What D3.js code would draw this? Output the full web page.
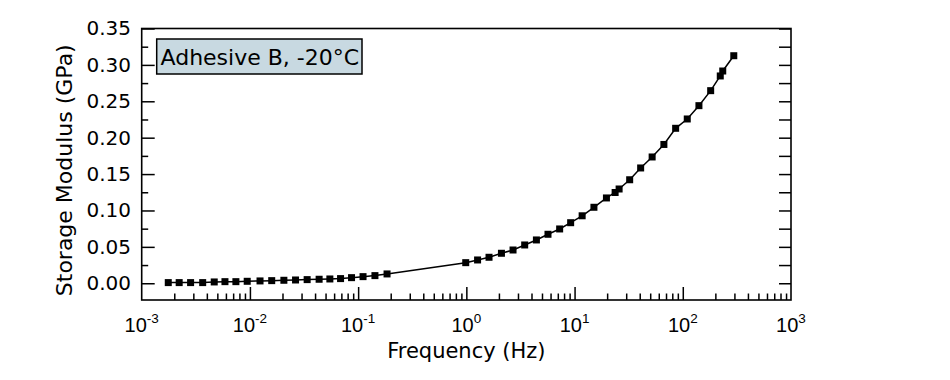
<!DOCTYPE html>
<html>
<head>
<meta charset="utf-8">
<script src="https://cdn.jsdelivr.net/npm/d3@7"></script>
<style>
  html, body { margin: 0; padding: 0; background: #fff; }
  svg { display: block; }
</style>
</head>
<body>
<svg id="chart" width="950" height="380"></svg>
<script>
// ---- data ----
const frequencyHz = [
  0.00176, 0.00222, 0.00283, 0.00366, 0.00468, 0.00588, 0.00742, 0.00944, 0.0124, 0.0159,
  0.0206, 0.0264, 0.0338, 0.0436, 0.0548, 0.0688, 0.0869, 0.111, 0.143, 0.185,
  0.987, 1.27, 1.62, 2.11, 2.70, 3.46, 4.44, 5.68, 7.28, 9.2,
  11.75, 15.1, 19.7, 23.7, 25.8, 32.3, 40.8, 52.1, 66.9, 85.9,
  110, 141, 181, 222, 234, 296
];
const storageModulusGPa = [
  0.0009, 0.0009, 0.0009, 0.0009, 0.0018, 0.0022, 0.0022, 0.0027, 0.0032, 0.0036,
  0.0041, 0.0045, 0.0050, 0.0055, 0.0059, 0.0064, 0.0077, 0.0091, 0.0105, 0.0128,
  0.0283, 0.0320, 0.0357, 0.0412, 0.0457, 0.0526, 0.0595, 0.0673, 0.0746, 0.0832,
  0.0927, 0.1044, 0.1172, 0.1247, 0.1295, 0.1422, 0.1584, 0.1735, 0.1907, 0.2129,
  0.2257, 0.2440, 0.2646, 0.2848, 0.2916, 0.3126
];
const xDecadeExponents = [-3, -2, -1, 0, 1, 2, 3];
const yTickValues = [0.00, 0.05, 0.10, 0.15, 0.20, 0.25, 0.30, 0.35];
const legendLabel = "Adhesive B, -20°C";
const xTitle = "Frequency (Hz)";
const yTitle = "Storage Modulus (GPa)";

(function () {
// ---- layout ----
const pL = 141.7, pR = 791, pT = 28.5, pB = 300;
const svg = d3.select("#chart");
const font = "'DejaVu Sans', sans-serif";

const x = d3.scaleLog().domain([1e-3, 1e3]).range([pL, pR]);
const y = d3.scaleLinear().domain([-0.023, 0.35]).range([pB, pT]);

const decades = xDecadeExponents.map(e => Math.pow(10, e));
const minorX = [];
for (let e = -3; e < 3; e++) for (let m = 2; m <= 9; m++) minorX.push(m * Math.pow(10, e));
const minorY = d3.range(0.025, 0.35, 0.05);
const allY = d3.range(0, 0.3501, 0.025);

function clean(g) {
  g.select(".domain").remove();
  g.selectAll(".tick line").attr("stroke", "#000").attr("stroke-width", 1.5);
}

// bottom axis: major + minor ticks (inward)
svg.append("g").attr("transform", `translate(0,${pB})`)
  .call(d3.axisBottom(x).tickValues(decades.slice(1, -1)).tickSize(-13).tickFormat(""))
  .call(clean);
svg.append("g").attr("transform", `translate(0,${pB})`)
  .call(d3.axisBottom(x).tickValues(minorX).tickSize(-6.5).tickFormat(""))
  .call(clean);

// bottom tick labels 10^n
const xl = svg.append("g");
decades.forEach((d, i) => {
  const t = xl.append("text")
    .attr("x", x(d)).attr("y", 332)
    .attr("text-anchor", "middle")
    .attr("font-family", "'Liberation Sans', Arial, sans-serif")
    .attr("font-size", 20).attr("fill", "#000");
  t.append("tspan").text("10");
  t.append("tspan").attr("dy", -9).attr("font-size", 13.5).text(String(xDecadeExponents[i]));
});

// left axis
svg.append("g").attr("transform", `translate(${pL},0)`)
  .call(d3.axisLeft(y).tickValues(yTickValues).tickSize(-13).tickPadding(10.7).tickFormat(d3.format(".2f")))
  .call(clean)
  .call(g => g.selectAll("text").attr("font-family", font).attr("font-size", 20).attr("fill", "#000"));
svg.append("g").attr("transform", `translate(${pL},0)`)
  .call(d3.axisLeft(y).tickValues(minorY).tickSize(-6.5).tickFormat(""))
  .call(clean);

// right axis
svg.append("g").attr("transform", `translate(${pR},0)`)
  .call(d3.axisRight(y).tickValues(allY).tickSize(-12).tickFormat(""))
  .call(clean);

// frame
svg.append("rect")
  .attr("x", pL).attr("y", pT).attr("width", pR - pL).attr("height", pB - pT)
  .attr("fill", "none").attr("stroke", "#000").attr("stroke-width", 1.6);

// data line + markers
const pts = frequencyHz.map((f, i) => [f, storageModulusGPa[i]]);
svg.append("path")
  .datum(pts)
  .attr("d", d3.line().x(d => x(d[0])).y(d => y(d[1])))
  .attr("fill", "none").attr("stroke", "#000").attr("stroke-width", 1.5);
const ms = 7;
svg.append("g").selectAll("rect").data(pts).join("rect")
  .attr("x", d => x(d[0]) - ms / 2).attr("y", d => y(d[1]) - ms / 2)
  .attr("width", ms).attr("height", ms).attr("fill", "#000");

// legend box
svg.append("rect")
  .attr("x", 156.7).attr("y", 39).attr("width", 205.3).attr("height", 35)
  .attr("fill", "#c8d9e1").attr("stroke", "#000").attr("stroke-width", 1.5);
svg.append("text")
  .attr("x", 160.5).attr("y", 65)
  .attr("font-family", font).attr("font-size", 22).attr("fill", "#000")
  .text(legendLabel);

// titles
svg.append("text")
  .attr("x", (pL + pR) / 2).attr("y", 358)
  .attr("text-anchor", "middle")
  .attr("font-family", font).attr("font-size", 21).attr("fill", "#000")
  .text(xTitle);
svg.append("text")
  .attr("transform", `translate(72,${(pT + pB) / 2 + 6}) rotate(-90)`)
  .attr("text-anchor", "middle")
  .attr("font-family", font).attr("font-size", 22).attr("fill", "#000")
  .text(yTitle);
})();
</script>
</body>
</html>
